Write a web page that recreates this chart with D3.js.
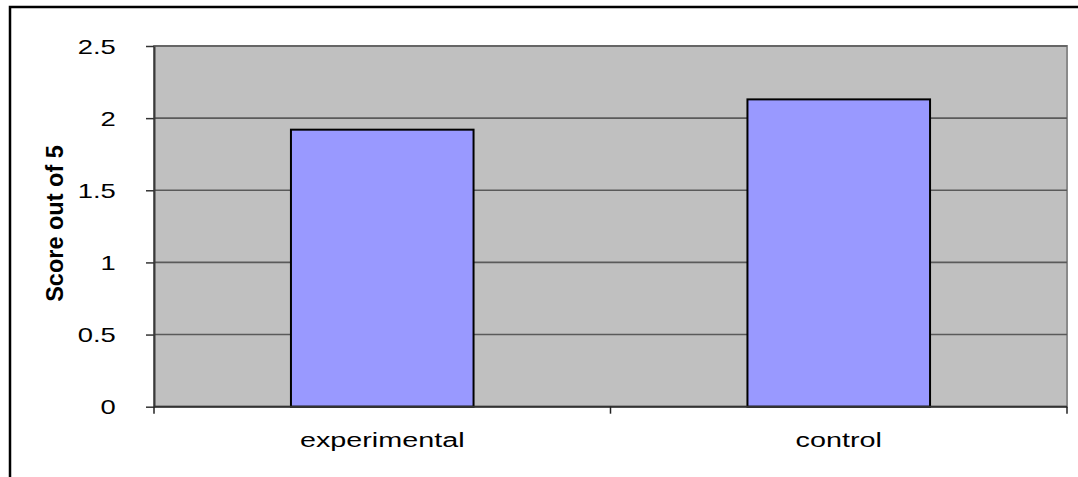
<!DOCTYPE html>
<html>
<head>
<meta charset="utf-8">
<script src="https://cdn.jsdelivr.net/npm/d3@7"></script>
<style>
  html, body { margin: 0; padding: 0; background: #fff; }
  svg { display: block; }
</style>
</head>
<body>
<svg id="chart" width="1078" height="477"></svg>
<script>
// Chart data
const categories = ["experimental", "control"];
const scores = [1.92, 2.13];
const yTicks = [0, 0.5, 1, 1.5, 2, 2.5];
const yTickLabels = ["0", "0.5", "1", "1.5", "2", "2.5"];
const yTitle = "Score out of 5";

const svg = d3.select("#chart");
const plot = { left: 154, right: 1067, top: 46, bottom: 406.7 };

// Outer chart frame
svg.append("rect")
  .attr("x", 10).attr("y", 7)
  .attr("width", 1100).attr("height", 500)
  .attr("fill", "#fff").attr("stroke", "#000").attr("stroke-width", 2.5);

const x = d3.scaleBand()
  .domain(categories)
  .range([plot.left, plot.right])
  .paddingInner(0.6)
  .paddingOuter(0.3);

const y = d3.scaleLinear()
  .domain([0, 2.5])
  .range([plot.bottom, plot.top]);

// Plot area background
svg.append("rect")
  .attr("x", plot.left).attr("y", plot.top)
  .attr("width", plot.right - plot.left).attr("height", plot.bottom - plot.top)
  .attr("fill", "#c0c0c0").attr("stroke", "#8a8a8a").attr("stroke-width", 2);

// Horizontal gridlines
svg.append("g").selectAll("line")
  .data(yTicks.filter(d => d > 0))
  .join("line")
  .attr("x1", plot.left).attr("x2", plot.right)
  .attr("y1", d => y(d)).attr("y2", d => y(d))
  .attr("stroke", "#5a5a5a").attr("stroke-width", 1.6);

// Bars
svg.append("g").selectAll("rect")
  .data(categories)
  .join("rect")
  .attr("x", d => x(d))
  .attr("y", (d, i) => y(scores[i]))
  .attr("width", x.bandwidth())
  .attr("height", (d, i) => y(0) - y(scores[i]))
  .attr("fill", "#9999ff")
  .attr("stroke", "#000").attr("stroke-width", 2);

// Y axis
const yAxis = d3.axisLeft(y)
  .tickValues(yTicks)
  .tickFormat((d, i) => yTickLabels[i])
  .tickSize(8)
  .tickSizeOuter(0)
  .tickPadding(14);
const gy = svg.append("g")
  .attr("transform", `translate(${plot.left},0)`)
  .call(yAxis);
gy.select(".domain").attr("stroke", "#3a3a3a").attr("stroke-width", 2);
gy.selectAll(".tick line").attr("stroke", "#333").attr("stroke-width", 1.5);
gy.selectAll(".tick text")
  .attr("font-family", "Liberation Sans, Arial, sans-serif")
  .attr("font-size", 20)
  .attr("fill", "#000")
  .attr("dy", "0.36em")
  .attr("transform", function () {
    const tx = +d3.select(this).attr("x");
    return `translate(${tx * 0.37},0) scale(1.37,1)`;
  });

// X axis line and category boundary ticks
const boundaries = d3.range(categories.length + 1).map(i => plot.left + i * x.step());
svg.append("line")
  .attr("x1", plot.left).attr("x2", plot.right)
  .attr("y1", y(0)).attr("y2", y(0))
  .attr("stroke", "#333").attr("stroke-width", 2);
svg.append("g").selectAll("line")
  .data(boundaries)
  .join("line")
  .attr("x1", d => d).attr("x2", d => d)
  .attr("y1", y(0)).attr("y2", y(0) + 7)
  .attr("stroke", "#222").attr("stroke-width", 1.5);

// Category labels
svg.append("g").selectAll("text")
  .data(categories)
  .join("text")
  .attr("transform", d => `translate(${x(d) + x.bandwidth() / 2},446.5) scale(1.37,1)`)
  .attr("text-anchor", "middle")
  .attr("font-family", "Liberation Sans, Arial, sans-serif")
  .attr("font-size", 21)
  .attr("fill", "#000")
  .text(d => d);

// Y axis title
svg.append("text")
  .attr("transform", "translate(63,223.5) rotate(-90)")
  .attr("text-anchor", "middle")
  .attr("font-family", "Liberation Sans, Arial, sans-serif")
  .attr("font-weight", "bold")
  .attr("font-size", 23.5)
  .attr("fill", "#000")
  .text(yTitle);
</script>
</body>
</html>
